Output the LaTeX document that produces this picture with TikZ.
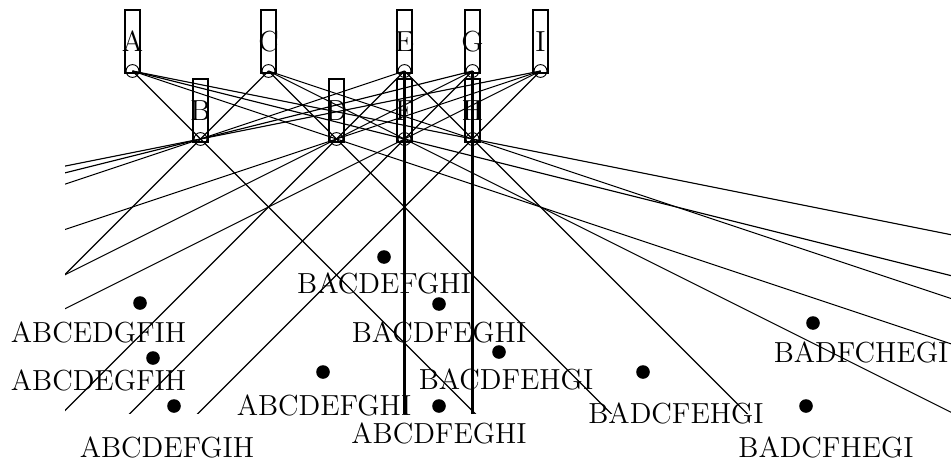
\documentclass[tikz,border=0pt]{standalone}
\usetikzlibrary{calc}
\begin{document}
\begin{tikzpicture}[x=0.5pt,y=-0.5pt,
  every node/.style={font=\fontsize{14.5pt}{17pt}\selectfont},
  slot/.style={draw, line width=1.2pt, minimum width=7.5pt, minimum height=31.5pt, inner sep=0pt},
  port/.style={draw, circle, line width=0.45pt, minimum size=6.4pt, inner sep=0pt},
  tag/.style={inner sep=0pt},
  leaf/.style={circle, fill=black, minimum size=6.8pt, inner sep=0pt},
  ray/.style={line width=0.55pt},
  trunk/.style={line width=1.3pt},
]
\useasboundingbox (0,0) rectangle (951,465);

% upper row of slots
\foreach \n/\x in {A/132.5, C/268.5, E/404.5, G/472.5, I/540.5}{
  \node[slot] (box\n) at (\x,41.5) {};
  \node[tag] (t\n) at (box\n.center) {\n};
  \node[port] (p\n) at (\x,71) {};
}
% lower row of slots
\foreach \n/\x in {B/200.5, D/336.5, F/404.5, H/472.5}{
  \node[slot] (box\n) at (\x,110.5) {};
  \node[tag] (t\n) at (box\n.center) {\n};
  \node[port] (p\n) at (\x,139) {};
}

% rays from each upper port through each lower port
\begin{scope}
  \clip (65,0) rectangle (951,413);
  \foreach \u in {A,C,E,G,I}{
    \foreach \l in {B,D,F,H}{
      \draw[ray] (p\u.center) -- ($(p\u.center)!15!(p\l.center)$);
    }
  }
  \draw[trunk] (pE.center) -- ($(pE.center)!15!(pF.center)$);
  \draw[trunk] (pG.center) -- ($(pG.center)!15!(pH.center)$);
\end{scope}

% leaves with their orderings
\node[leaf] (d1) at (140,303) {};
\node[tag] (l1) at (98.5,332) {ABCEDGFIH};
\node[leaf] (d2) at (153,358) {};
\node[tag] (l2) at (98.5,380) {ABCDEGFIH};
\node[leaf] (d3) at (174,406) {};
\node[tag] (l3) at (167,447) {ABCDEFGIH};
\node[leaf] (d4) at (323,372) {};
\node[tag] (l4) at (324,405) {ABCDEFGHI};
\node[leaf] (d5) at (384,257) {};
\node[tag] (l5) at (384,283) {BACDEFGHI};
\node[leaf] (d6) at (439,304) {};
\node[tag] (l6) at (439,332) {BACDFEGHI};
\node[leaf] (d7) at (499,352) {};
\node[tag] (l7) at (506,379) {BACDFEHGI};
\node[leaf] (d8) at (439,406) {};
\node[tag] (l8) at (439,433) {ABCDFEGHI};
\node[leaf] (d9) at (643,372) {};
\node[tag] (l9) at (676,413) {BADCFEHGI};
\node[leaf] (d10) at (813,323) {};
\node[tag] (l10) at (861,352) {BADFCHEGI};
\node[leaf] (d11) at (806,406) {};
\node[tag] (l11) at (826,447) {BADCFHEGI};
\end{tikzpicture}
\end{document}
